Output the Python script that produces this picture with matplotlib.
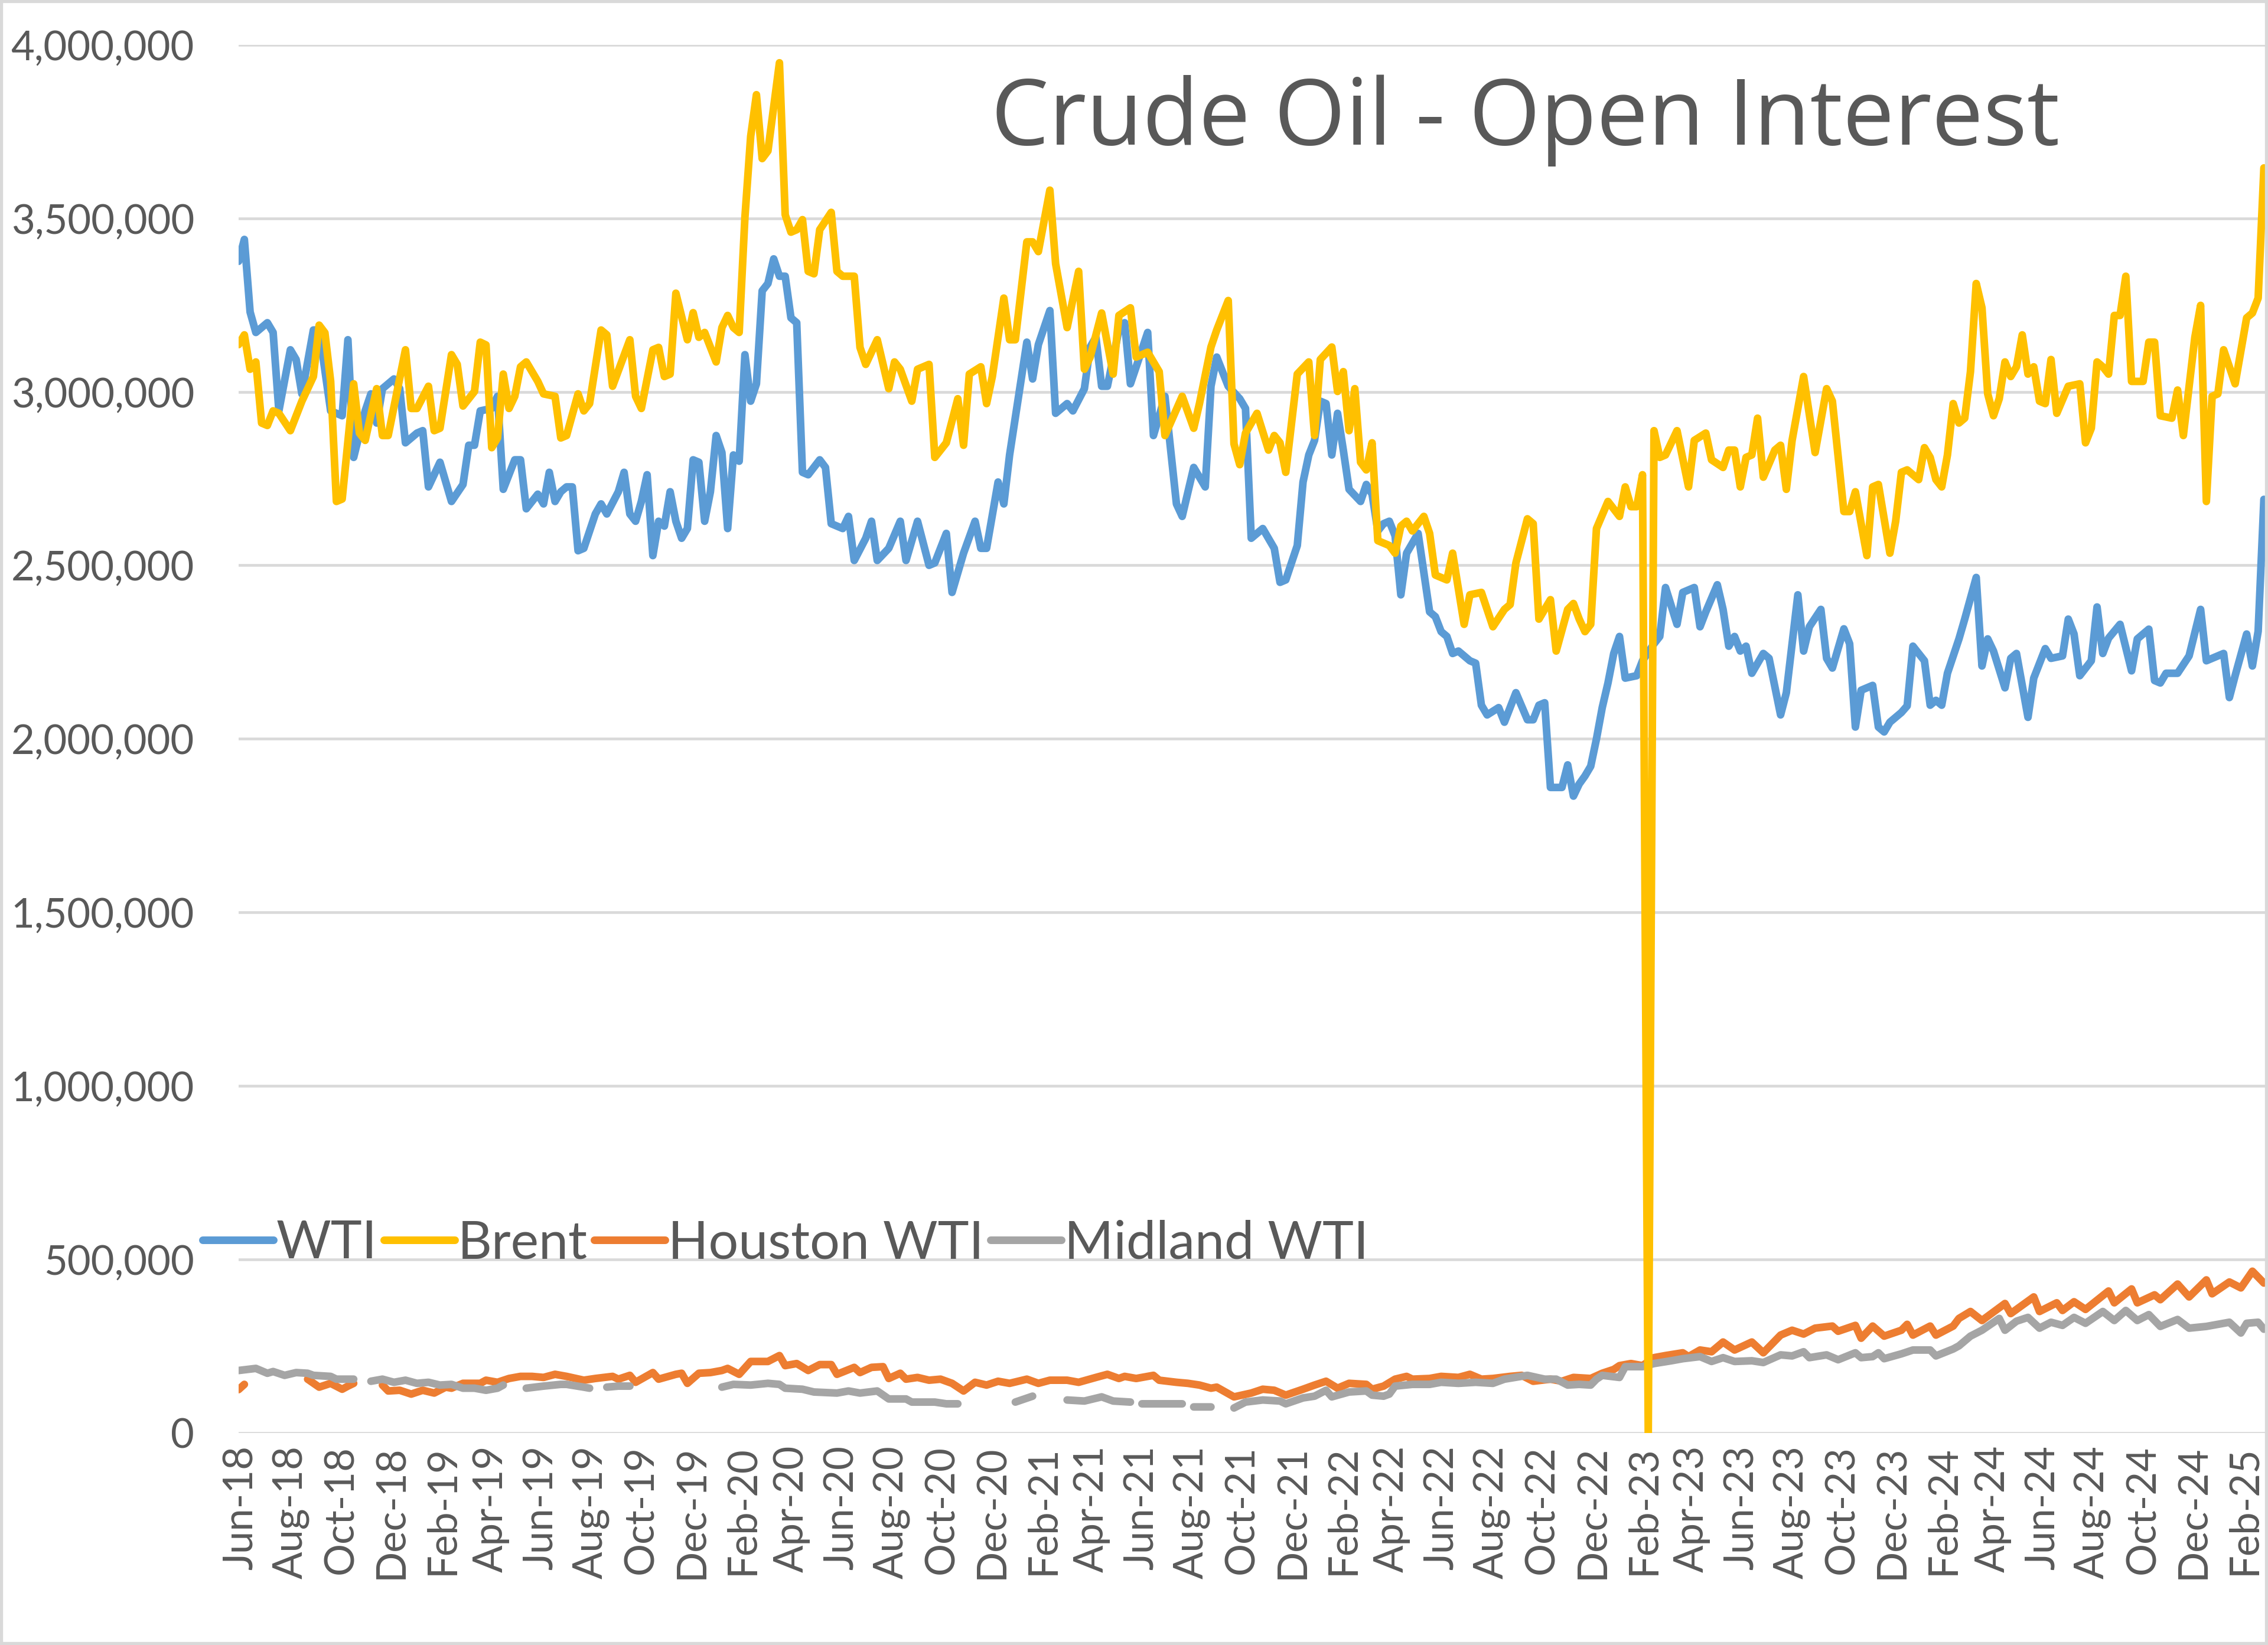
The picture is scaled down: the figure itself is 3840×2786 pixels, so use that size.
import numpy as np
import pandas as pd
import matplotlib
matplotlib.use("Agg")
import matplotlib.pyplot as plt
import matplotlib.dates as mdates
from matplotlib.ticker import FuncFormatter
from matplotlib.patches import Rectangle

nan = float("nan")

# weekly open interest, (week number from 2018-05-29, thousands of contracts)
start = pd.Timestamp("2018-05-29")

wti = [(0, 3376), (1, 3439), (2, 3230), (3, 3171), (5, 3199), (6, 3171), (7, 2945), (9, 3121), (10, 3093),
       (11, 2994), (13, 3178), (14, 3178), (16, 2945), (18, 2931), (19, 3150), (20, 2811), (22, 2945), (23, 2994),
       (24, 2910), (25, 3009), (27, 3037), (28, 3009), (29, 2853), (31, 2881), (32, 2888), (33, 2726), (35, 2797),
       (37, 2684), (39, 2733), (40, 2846), (41, 2846), (42, 2945), (44, 2952), (45, 2987), (46, 2719), (48, 2804),
       (49, 2804), (50, 2663), (52, 2705), (53, 2677), (54, 2768), (55, 2684), (56, 2712), (57, 2726), (58, 2726),
       (59, 2542), (60, 2549), (62, 2648), (63, 2677), (64, 2648), (66, 2712), (67, 2768), (68, 2648), (69, 2627),
       (70, 2684), (71, 2761), (72, 2528), (73, 2627), (74, 2613), (75, 2712), (76, 2627), (77, 2578), (78, 2606),
       (79, 2804), (80, 2797), (81, 2627), (82, 2712), (83, 2874), (84, 2825), (85, 2606), (86, 2818), (87, 2800),
       (88, 3107), (89, 2973), (90, 3023), (91, 3291), (92, 3312), (93, 3383), (94, 3333), (95, 3333), (96, 3213),
       (97, 3199), (98, 2768), (99, 2761), (101, 2804), (102, 2782), (103, 2620), (105, 2606), (106, 2641),
       (107, 2514), (109, 2578), (110, 2627), (111, 2514), (113, 2549), (115, 2627), (116, 2514), (118, 2627),
       (120, 2500), (121, 2507), (123, 2592), (124, 2422), (126, 2535), (128, 2627), (129, 2549), (130, 2549),
       (132, 2740), (133, 2677), (134, 2818), (137, 3143), (138, 3037), (139, 3136), (141, 3234), (142, 2938),
       (144, 2966), (145, 2945), (147, 3009), (148, 3129), (149, 3157), (150, 3016), (151, 3016), (153, 3178),
       (154, 3199), (155, 3023), (156, 3072), (158, 3171), (159, 2874), (161, 2987), (163, 2677), (164, 2641),
       (166, 2782), (168, 2726), (169, 3016), (170, 3100), (172, 3016), (174, 2980), (175, 2952), (176, 2578),
       (178, 2606), (180, 2549), (181, 2451), (182, 2458), (184, 2557), (185, 2740), (186, 2818), (187, 2860),
       (188, 2973), (189, 2966), (190, 2818), (191, 2938), (192, 2832), (193, 2719), (195, 2684), (196, 2733),
       (197, 2705), (198, 2599), (199, 2620), (200, 2627), (201, 2585), (202, 2415), (203, 2535), (205, 2592),
       (207, 2366), (208, 2352), (209, 2309), (210, 2295), (211, 2246), (212, 2253), (214, 2225), (215, 2218),
       (216, 2097), (217, 2069), (219, 2090), (220, 2048), (222, 2133), (224, 2055), (225, 2055), (226, 2097),
       (227, 2104), (228, 1860), (230, 1860), (231, 1925), (232, 1835), (233, 1870), (234, 1893), (235, 1921),
       (236, 2000), (237, 2090), (238, 2161), (239, 2246), (240, 2295), (241, 2175), (243, 2182), (244, 2225),
       (246, 2274), (247, 2295), (248, 2436), (250, 2330), (251, 2422), (253, 2436), (254, 2323), (255, 2366),
       (257, 2444), (258, 2373), (259, 2267), (260, 2295), (261, 2253), (262, 2267), (263, 2189), (265, 2246),
       (266, 2232), (268, 2069), (269, 2133), (271, 2415), (272, 2253), (273, 2323), (275, 2373), (276, 2232),
       (277, 2204), (279, 2317), (280, 2274), (281, 2034), (282, 2140), (284, 2154), (285, 2034), (286, 2020),
       (287, 2048), (289, 2076), (290, 2095), (291, 2267), (293, 2225), (294, 2097), (295, 2111), (296, 2097),
       (297, 2189), (299, 2288), (300, 2345), (302, 2465), (303, 2210), (304, 2288), (305, 2253), (307, 2147),
       (308, 2232), (309, 2246), (311, 2062), (312, 2175), (314, 2260), (315, 2232), (317, 2239), (318, 2345),
       (319, 2302), (320, 2182), (322, 2225), (323, 2380), (324, 2246), (325, 2290), (327, 2330), (329, 2196),
       (330, 2288), (332, 2316), (333, 2168), (334, 2161), (335, 2189), (337, 2189), (339, 2239), (341, 2373),
       (342, 2225), (344, 2239), (345, 2246), (346, 2119), (347, 2182), (349, 2302), (350, 2210), (351, 2310),
       (352, 2690)]

brent = [(0, 3136), (1, 3164), (2, 3065), (3, 3086), (4, 2910), (5, 2903), (6, 2945), (7, 2938), (9, 2888),
         (11, 2973), (13, 3044), (14, 3192), (15, 3170), (16, 3030), (17, 2684), (18, 2691), (20, 3023), (21, 2881),
         (22, 2860), (24, 3009), (25, 2874), (26, 2874), (29, 3121), (30, 2952), (31, 2952), (33, 3016), (34, 2888),
         (35, 2895), (37, 3107), (38, 3079), (39, 2959), (41, 3001), (42, 3143), (43, 3135), (44, 2839), (45, 2867),
         (46, 3051), (47, 2952), (48, 2987), (49, 3072), (50, 3086), (52, 3030), (53, 2994), (55, 2987), (56, 2867),
         (57, 2874), (59, 2994), (60, 2945), (61, 2966), (63, 3178), (64, 3164), (65, 3016), (68, 3150), (69, 2987),
         (70, 2952), (72, 3121), (73, 3128), (74, 3044), (75, 3051), (76, 3284), (78, 3150), (79, 3228), (80, 3157),
         (81, 3171), (83, 3086), (84, 3185), (85, 3220), (86, 3185), (87, 3171), (88, 3503), (89, 3736), (90, 3856),
         (91, 3672), (92, 3694), (94, 3948), (95, 3510), (96, 3460), (97, 3467), (98, 3496), (99, 3347), (100, 3340),
         (101, 3467), (103, 3517), (104, 3347), (105, 3333), (107, 3333), (108, 3128), (109, 3079), (111, 3150),
         (113, 3009), (114, 3086), (115, 3065), (117, 2973), (118, 3065), (120, 3079), (121, 2811), (123, 2853),
         (125, 2980), (126, 2846), (127, 3051), (129, 3072), (130, 2966), (131, 3044), (133, 3270), (134, 3150),
         (135, 3150), (137, 3432), (138, 3432), (139, 3404), (141, 3581), (142, 3369), (144, 3185), (146, 3347),
         (147, 3065), (148, 3100), (150, 3227), (152, 3051), (153, 3220), (155, 3242), (156, 3100), (158, 3114),
         (160, 3058), (161, 2874), (164, 2987), (166, 2895), (167, 2966), (169, 3129), (170, 3178), (172, 3263),
         (173, 2850), (174, 2790), (175, 2881), (177, 2938), (179, 2832), (180, 2874), (181, 2853), (182, 2768),
         (184, 3051), (186, 3086), (187, 2874), (188, 3093), (190, 3129), (191, 3001), (192, 3058), (193, 2888),
         (194, 3009), (195, 2797), (196, 2775), (197, 2853), (198, 2571), (200, 2557), (201, 2535), (202, 2613),
         (203, 2627), (204, 2599), (206, 2641), (207, 2592), (208, 2472), (210, 2458), (211, 2535), (213, 2330),
         (214, 2415), (216, 2422), (218, 2323), (220, 2373), (221, 2387), (222, 2507), (224, 2634), (225, 2620),
         (226, 2345), (228, 2401), (229, 2253), (231, 2373), (232, 2390), (233, 2345), (234, 2309), (235, 2330),
         (236, 2606), (238, 2684), (240, 2641), (241, 2726), (242, 2669), (243, 2669), (244, 2761), (245, 0),
         (246, 2888), (247, 2811), (248, 2818), (250, 2888), (252, 2726), (253, 2860), (255, 2881), (256, 2804),
         (258, 2782), (259, 2832), (260, 2832), (261, 2726), (262, 2811), (263, 2818), (264, 2924), (265, 2754),
         (267, 2832), (268, 2846), (269, 2719), (270, 2860), (272, 3044), (274, 2825), (276, 3009), (277, 2973),
         (279, 2655), (280, 2655), (281, 2712), (283, 2528), (284, 2726), (285, 2733), (287, 2535), (288, 2627),
         (289, 2768), (290, 2775), (291, 2761), (292, 2747), (293, 2839), (294, 2811), (295, 2747), (296, 2726),
         (297, 2818), (298, 2966), (299, 2910), (300, 2924), (301, 3058), (302, 3312), (303, 3242), (304, 2994),
         (305, 2931), (306, 2980), (307, 3086), (308, 3044), (309, 3072), (310, 3164), (311, 3051), (312, 3072),
         (313, 2973), (314, 2966), (315, 3093), (316, 2938), (318, 3016), (320, 3023), (321, 2853), (322, 2895),
         (323, 3086), (324, 3072), (325, 3051), (326, 3220), (327, 3220), (328, 3333), (329, 3030), (331, 3030),
         (332, 3143), (333, 3143), (334, 2931), (336, 2924), (337, 3005), (338, 2874), (340, 3157), (341, 3249),
         (342, 2684), (343, 2987), (344, 2994), (345, 3121), (347, 3023), (349, 3213), (350, 3227), (351, 3270),
         (352, 3645)]

houston = [(0, 125), (1, 140), (2, nan), (12, 155), (14, 132), (16, 143), (18, 126), (19, 135), (20, 143), (21, nan),
           (25, 138), (26, 121), (28, 123), (30, 112), (32, 123), (34, 115), (36, 132), (37, 129), (39, 143),
           (42, 143), (43, 152), (45, 146), (47, 157), (49, 163), (51, 163), (53, 160), (55, 169), (57, 163),
           (60, 152), (62, 157), (65, 163), (66, 155), (68, 166), (69, 146), (72, 174), (73, 155), (76, 169),
           (77, 172), (78, 143), (80, 172), (82, 174), (84, 180), (85, 186), (87, 169), (89, 206), (92, 206),
           (94, 223), (95, 194), (97, 200), (99, 180), (101, 197), (103, 197), (104, 169), (107, 189), (108, 174),
           (110, 189), (112, 191), (113, 157), (115, 172), (116, 155), (118, 160), (120, 152), (122, 155), (124, 143),
           (126, 121), (128, 146), (130, 138), (132, 149), (134, 143), (137, 155), (139, 143), (141, 152), (144, 152),
           (146, 146), (149, 160), (151, 169), (153, 157), (154, 163), (156, 157), (159, 166), (160, 152), (163, 146),
           (165, 143), (167, 138), (169, 129), (170, 132), (173, 104), (176, 115), (178, 126), (180, 123), (182, 109),
           (185, 126), (187, 138), (189, 149), (191, 129), (193, 143), (196, 140), (197, 126), (199, 135), (201, 155),
           (203, 163), (204, 155), (207, 157), (209, 163), (212, 160), (214, 169), (216, 155), (218, 157), (221, 163),
           (223, 166), (225, 149), (228, 155), (230, 149), (232, 160), (235, 157), (237, 172), (239, 183), (240, 194),
           (242, 200), (244, 194), (246, 217), (248, 223), (251, 231), (252, 220), (254, 239), (256, 234), (258, 262),
           (260, 239), (263, 262), (265, 231), (268, 282), (270, 296), (272, 285), (274, 302), (277, 308), (278, 293),
           (281, 310), (282, 273), (284, 308), (286, 279), (289, 296), (290, 313), (291, 282), (294, 308), (295, 282),
           (298, 308), (299, 330), (301, 350), (303, 324), (307, 373), (308, 344), (312, 392), (313, 350), (316, 375),
           (317, 353), (319, 378), (321, 356), (325, 409), (326, 375), (329, 415), (330, 375), (333, 398), (334, 384),
           (337, 429), (339, 392), (342, 441), (343, 401), (346, 435), (348, 418), (350, 466), (352, 432)]

midland = [(0, 180), (3, 186), (5, 172), (6, 177), (8, 166), (10, 174), (12, 172), (13, 166), (16, 163), (17, 155),
           (20, 155), (21, nan), (23, 149), (25, 155), (27, 146), (29, 152), (31, 143), (33, 146), (35, 138),
           (37, 140), (39, 129), (41, 129), (43, 123), (45, 129), (46, 138), (47, nan), (50, 129), (53, 135),
           (56, 140), (57, 140), (60, 132), (61, 129), (62, nan), (64, 132), (66, 135), (68, 135), (69, nan),
           (84, 132), (86, 140), (89, 138), (92, 143), (94, 140), (95, 129), (98, 126), (100, 118), (104, 115),
           (106, 121), (108, 115), (111, 121), (113, 98), (116, 98), (117, 89), (121, 89), (123, 84), (125, 84),
           (126, nan), (135, 89), (138, 106), (139, nan), (144, 95), (147, 92), (150, 104), (152, 92), (155, 89),
           (156, nan), (157, 84), (159, 84), (164, 84), (165, nan), (166, 75), (169, 75), (170, nan), (173, 72),
           (175, 89), (178, 95), (181, 92), (182, 84), (185, 101), (187, 106), (189, 123), (190, 104), (193, 118),
           (196, 121), (197, 109), (199, 106), (200, 112), (201, 135), (204, 140), (207, 140), (209, 146), (212, 143),
           (215, 146), (218, 143), (220, 155), (224, 166), (227, 155), (229, 155), (231, 138), (233, 140), (235, 138),
           (236, 155), (237, 166), (240, 160), (241, 191), (244, 191), (246, 200), (249, 208), (251, 214), (254, 220),
           (256, 206), (258, 217), (260, 206), (263, 208), (265, 203), (268, 225), (270, 222), (272, 234), (273, 217),
           (276, 225), (278, 211), (281, 231), (282, 217), (284, 220), (285, 231), (286, 214), (289, 228), (291, 239),
           (294, 239), (295, 222), (298, 242), (299, 251), (301, 279), (303, 296), (306, 330), (307, 296), (309, 322),
           (311, 333), (313, 302), (315, 319), (317, 310), (319, 333), (321, 316), (324, 350), (326, 324), (328, 353),
           (330, 324), (332, 341), (334, 307), (337, 327), (339, 302), (342, 307), (343, 310), (346, 319), (348, 288),
           (349, 316), (351, 319), (352, 299)]


def to_xy(pairs):
    wk, val = zip(*pairs)
    dates = start + pd.to_timedelta(np.array(wk) * 7, unit="D")
    return dates, np.array(val, dtype=float) * 1000


text_col = "#595959"

fig = plt.figure(figsize=(12.8, 9.2867), dpi=300)
ax = fig.add_axes([0.1052, 0.1289, 0.8935, 0.8439])

series = [("WTI", wti, "#5B9BD5", 2), ("Brent", brent, "#FFC000", 5),
          ("Houston WTI", houston, "#ED7D31", 3), ("Midland WTI", midland, "#A5A5A5", 4)]
handles = []
for name, data, col, z in series:
    x, y = to_xy(data)
    ln, = ax.plot(x, y, color=col, lw=3.1, label=name, zorder=z,
                  solid_joinstyle="round", solid_capstyle="round")
    handles.append(ln)

ax.set_ylim(0, 4000000)
ax.set_xlim(start, start + pd.Timedelta(days=352.2 * 7))
ax.set_yticks(np.arange(0, 4000001, 500000))
ax.yaxis.set_major_formatter(FuncFormatter(lambda v, p: f"{v:,.0f}"))
ax.xaxis.set_major_locator(mdates.MonthLocator(bymonth=[2, 4, 6, 8, 10, 12]))
ax.xaxis.set_major_formatter(mdates.DateFormatter("%b-%y"))

ax.grid(axis="y", color="#D9D9D9", lw=1.1)
ax.set_axisbelow(True)
for s in ax.spines.values():
    s.set_visible(False)

ax.tick_params(axis="y", length=0, pad=18, labelsize=16.5, labelcolor=text_col)
ax.tick_params(axis="x", length=0, pad=5, labelsize=16.5, labelcolor=text_col, labelrotation=90)
for lab in ax.get_xticklabels() + ax.get_yticklabels():
    lab.set_fontfamily("Lato")

fig.text(0.437, 0.912, "Crude Oil - Open Interest", fontsize=37.3, color=text_col,
         family="Open Sans", va="baseline", ha="left")

leg = fig.legend(handles=handles, loc="center left", bbox_to_anchor=(0.0893, 0.244), ncol=4,
                 frameon=False, borderpad=0, borderaxespad=0, handlelength=1.34, handletextpad=0.05,
                 columnspacing=0.13, prop={"family": "Lato", "size": 21.5}, labelcolor=text_col)

fig.patches.append(Rectangle((0, 0), 1, 1, transform=fig.transFigure, fill=False,
                             edgecolor="#D9D9D9", lw=2.5))

fig.savefig("out.png", dpi=300)
